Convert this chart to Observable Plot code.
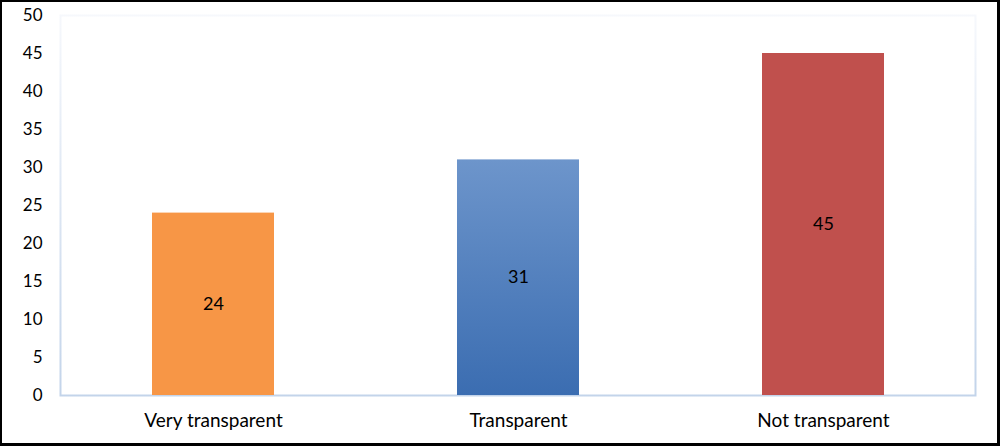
<!DOCTYPE html>
<html>
<head>
<meta charset="utf-8">
<script src="https://cdn.jsdelivr.net/npm/d3@7"></script>
<script src="https://cdn.jsdelivr.net/npm/@observablehq/plot@0.6"></script>
<style>
  html, body { margin: 0; padding: 0; background: #fff; }
  #wrap { position: relative; width: 1000px; height: 446px; overflow: hidden; }
  #border { position: absolute; left: 0; top: 0; width: 1000px; height: 446px; box-sizing: border-box; border: 2px solid #000; border-right-width: 3px; border-bottom-width: 3px; pointer-events: none; }
</style>
</head>
<body>
<div id="wrap"><div id="border"></div></div>
<script>
const categories = ["Very transparent", "Transparent", "Not transparent"];
const values = [24, 31, 45];
const barColors = ["#F79646", "url(#blueGrad)", "#C0504D"];
const yTicks = [0, 5, 10, 15, 20, 25, 30, 35, 40, 45, 50];

const data = categories.map((c, i) => ({category: c, value: values[i]}));

const defs = () => {
  const svgNS = "http://www.w3.org/2000/svg";
  const g = document.createElementNS(svgNS, "defs");
  g.innerHTML = `
    <linearGradient id="blueGrad" x1="0" y1="0" x2="0" y2="1">
      <stop offset="0" stop-color="#6D95CB"/>
      <stop offset="1" stop-color="#3B6DB1"/>
    </linearGradient>
    <linearGradient id="frameGrad" x1="0" y1="0" x2="0" y2="1">
      <stop offset="0" stop-color="#F6F8FC"/>
      <stop offset="1" stop-color="#C3D4EA"/>
    </linearGradient>`;
  return g;
};

const chart = Plot.plot({
  width: 1000,
  height: 446,
  marginLeft: 60,
  marginRight: 25,
  marginTop: 15,
  marginBottom: 51,
  style: {fontFamily: "Lato, 'Open Sans', sans-serif", fontSize: "17px", color: "#000", background: "transparent"},
  x: {domain: categories, paddingInner: 0.6, paddingOuter: 0.3, label: null},
  y: {domain: [0, 50], label: null},
  color: {domain: categories, range: barColors},
  marks: [
    defs,
    Plot.frame({stroke: "url(#frameGrad)", strokeWidth: 2}),
    Plot.barY(data, {x: "category", y: "value", fill: "category"}),
    Plot.text(data, {x: "category", y: d => d.value / 2, text: d => String(d.value), fill: "#000", fontSize: 18}),
    Plot.axisY({ticks: yTicks, tickSize: 0, tickPadding: 18, label: null, fontSize: 17}),
    Plot.axisX({tickSize: 0, tickPadding: 18, label: null, fontSize: 19})
  ]
});
document.getElementById("wrap").insertBefore(chart, document.getElementById("border"));
</script>
</body>
</html>
